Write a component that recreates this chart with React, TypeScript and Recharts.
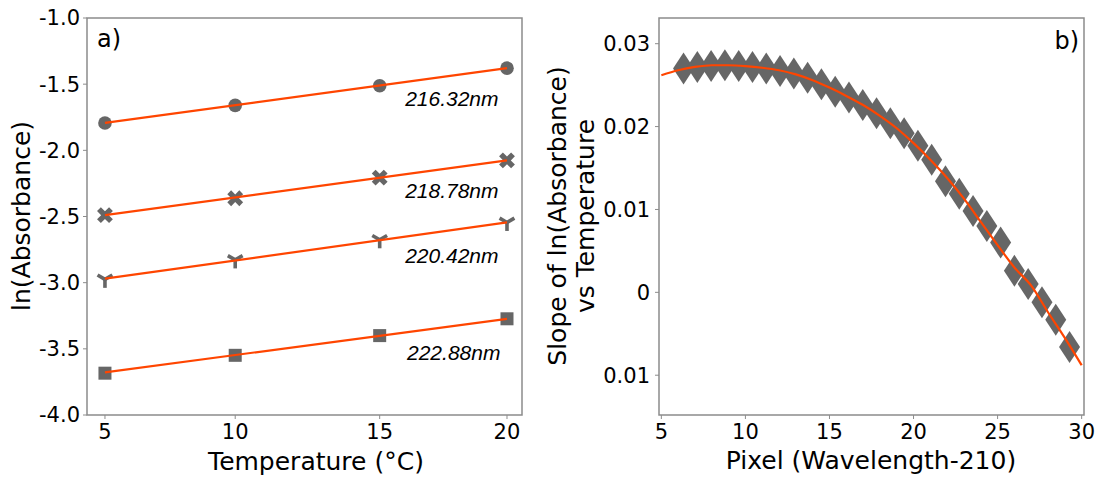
import React from 'react';
import { ComposedChart, Scatter, XAxis, YAxis, ReferenceArea, ReferenceDot } from 'recharts';

// panel a) ln(absorbance) at four temperatures, one row per wavelength
const temperatures = [5, 9.86, 15.25, 20];
const lnAbs21632 = [-1.793, -1.66, -1.512, -1.379];
const lnAbs21878 = [-2.49, -2.362, -2.206, -2.076];
const lnAbs22042 = [-2.975, -2.828, -2.676, -2.545];
const lnAbs22888 = [-3.684, -3.549, -3.4, -3.273];

// linear fit end points for each wavelength
const fitTemps = [5, 20];
const fit21632 = [-1.793, -1.379];
const fit21878 = [-2.49, -2.076];
const fit22042 = [-2.97, -2.545];
const fit22888 = [-3.678, -3.273];

const wavelengthNames = ['216.32nm', '218.78nm', '220.42nm', '222.88nm'];
const lnAbsTicks = [-4, -3.5, -3, -2.5, -2, -1.5, -1];

// panel b) fitted slope against pixel offset
const pixels = [
  6.32, 7.14, 7.96, 8.78, 9.6, 10.42, 11.24, 12.06, 12.88, 13.7, 14.52, 15.34, 16.16, 16.98, 17.8,
  18.62, 19.44, 20.26, 21.08, 21.9, 22.72, 23.54, 24.36, 25.18, 26.0, 26.82, 27.64, 28.46, 29.28,
];
const slopes = [
  0.027, 0.0272, 0.0273, 0.0274, 0.0273, 0.0272, 0.027, 0.0267, 0.0264, 0.0259, 0.0251, 0.0242,
  0.0235, 0.0226, 0.0216, 0.0204, 0.0192, 0.0177, 0.016, 0.0134, 0.0119, 0.0098, 0.008, 0.006,
  0.0026, 0.001, -0.0012, -0.0033, -0.0066,
];
const curvePixels = [5, 6, 7, 8, 9, 10, 11, 12, 13, 14, 15, 16, 17, 18, 19, 20, 21, 22, 23, 24, 25, 26, 27, 28, 29, 30];
const curveSlopes = [
  0.0262, 0.0268, 0.0272, 0.0274, 0.0274, 0.0273, 0.0271, 0.0268, 0.0263, 0.0256, 0.0247, 0.0237,
  0.0226, 0.0213, 0.0198, 0.018, 0.016, 0.0138, 0.0113, 0.0085, 0.0057, 0.003, 0.0008, -0.0024,
  -0.0055, -0.0088,
];
const pixelTicks = [5, 10, 15, 20, 25, 30];
const slopeTicks = [-0.01, 0, 0.01, 0.02, 0.03];

const zip = (xs: number[], ys: number[]) => xs.map((x, i) => ({ x, y: ys[i] }));

const GREY = '#666666';
const FIT = '#ff4500';
const SPINE = '#8c8c8c';
const AXIS_FONT = 'DejaVu Sans, sans-serif';

const tickStyle = { fill: '#000', fontSize: 21, fontFamily: AXIS_FONT };

const Circle = (p: any) => <circle cx={p.cx} cy={p.cy} r={6.8} fill={GREY} />;
const Square = (p: any) => <rect x={p.cx - 6.5} y={p.cy - 6.5} width={13} height={13} fill={GREY} />;
const Cross = (p: any) => {
  const s = 8.5;
  const t = 2.7;
  const d = `M${-t},${-s}H${t}V${-t}H${s}V${t}H${t}V${s}H${-t}V${t}H${-s}V${-t}H${-t}Z`;
  return <path d={d} fill={GREY} transform={`translate(${p.cx},${p.cy}) rotate(45)`} />;
};
const TriDown = (p: any) => (
  <g transform={`translate(${p.cx},${p.cy})`} stroke={GREY} strokeWidth={3.6}>
    <line x1={0} y1={0} x2={0} y2={8.5} />
    <line x1={0} y1={0} x2={-7.4} y2={-4.3} />
    <line x1={0} y1={0} x2={7.4} y2={-4.3} />
  </g>
);
const ThinDiamond = (p: any) => (
  <path
    d={`M${p.cx},${p.cy - 16}L${p.cx + 10.5},${p.cy}L${p.cx},${p.cy + 16}L${p.cx - 10.5},${p.cy}Z`}
    fill={GREY}
  />
);
const NoDot = () => <g />;

const noteText = (name: string) => (p: any) => (
  <text
    x={p.cx}
    y={p.cy}
    fontSize={21}
    fontStyle="italic"
    fontFamily="Liberation Sans, Arial, sans-serif"
    fill="#000"
  >
    {name}
  </text>
);

function TemperaturePanel() {
  const series = [
    { values: lnAbs21632, fit: fit21632, shape: Circle },
    { values: lnAbs21878, fit: fit21878, shape: Cross },
    { values: lnAbs22042, fit: fit22042, shape: TriDown },
    { values: lnAbs22888, fit: fit22888, shape: Square },
  ];
  // where each wavelength name sits, in data units
  const notes = [
    { t: 16.2, v: -1.665 },
    { t: 16.2, v: -2.36 },
    { t: 16.2, v: -2.851 },
    { t: 16.27, v: -3.584 },
  ];
  const xDomain: [number, number] = [4.33, 20.56];
  const yDomain: [number, number] = [-4, -1];
  return (
    <ComposedChart width={540} height={477} margin={{ top: 18, right: 18, bottom: 0, left: 0 }}>
      <XAxis
        dataKey="x"
        type="number"
        domain={xDomain}
        ticks={temperatures}
        tickFormatter={(v: number) => String(Math.round(v))}
        allowDataOverflow
        height={62}
        axisLine={false}
        tickLine={{ stroke: SPINE }}
        tickSize={4}
        tickMargin={5}
        tick={tickStyle}
      />
      <YAxis
        dataKey="y"
        type="number"
        domain={yDomain}
        ticks={lnAbsTicks}
        tickFormatter={(v: number) => v.toFixed(1)}
        allowDataOverflow
        width={87}
        axisLine={false}
        tickLine={{ stroke: SPINE }}
        tickSize={4}
        tickMargin={3}
        tick={tickStyle}
      />
      <ReferenceArea
        x1={xDomain[0]}
        x2={xDomain[1]}
        y1={yDomain[0]}
        y2={yDomain[1]}
        fill="none"
        stroke={SPINE}
        strokeWidth={1.5}
      />
      {series.map((s, i) => (
        <Scatter
          key={`pts${i}`}
          data={zip(temperatures, s.values)}
          shape={s.shape}
          isAnimationActive={false}
        />
      ))}
      {series.map((s, i) => (
        <Scatter
          key={`fit${i}`}
          data={zip(fitTemps, s.fit)}
          line={{ stroke: FIT, strokeWidth: 2.2 }}
          shape={NoDot}
          isAnimationActive={false}
        />
      ))}
      {notes.map((n, i) => (
        <ReferenceDot
          key={`note${i}`}
          x={n.t}
          y={n.v}
          r={0}
          ifOverflow="visible"
          shape={noteText(wavelengthNames[i])}
        />
      ))}
    </ComposedChart>
  );
}

function SlopePanel() {
  const xDomain: [number, number] = [4.86, 30.14];
  const yDomain: [number, number] = [-0.0148, 0.0331];
  return (
    <ComposedChart width={574} height={477} margin={{ top: 18, right: 30, bottom: 0, left: 0 }}>
      <XAxis
        dataKey="x"
        type="number"
        domain={xDomain}
        ticks={pixelTicks}
        allowDataOverflow
        height={62}
        axisLine={false}
        tickLine={{ stroke: SPINE }}
        tickSize={4}
        tickMargin={5}
        tick={tickStyle}
      />
      <YAxis
        dataKey="y"
        type="number"
        domain={yDomain}
        ticks={slopeTicks}
        tickFormatter={(v: number) => (Math.abs(v) < 1e-9 ? '0' : Math.abs(v).toFixed(2))}
        allowDataOverflow
        width={119}
        axisLine={false}
        tickLine={{ stroke: SPINE }}
        tickSize={4}
        tickMargin={5}
        tick={tickStyle}
      />
      <ReferenceArea
        x1={xDomain[0]}
        x2={xDomain[1]}
        y1={yDomain[0]}
        y2={yDomain[1]}
        fill="none"
        stroke={SPINE}
        strokeWidth={1.5}
      />
      <Scatter data={zip(pixels, slopes)} shape={ThinDiamond} isAnimationActive={false} />
      <Scatter
        data={zip(curvePixels, curveSlopes)}
        line={{ stroke: FIT, strokeWidth: 2.2 }}
        lineJointType="monotoneX"
        shape={NoDot}
        isAnimationActive={false}
      />
    </ComposedChart>
  );
}

export default function App() {
  const title = { fontSize: 25, fontFamily: AXIS_FONT, fill: '#000' };
  return (
    <div style={{ position: 'absolute', left: 0, top: 0, width: 1114, height: 477, background: '#fff' }}>
      <div style={{ position: 'absolute', left: 0, top: 0 }}>
        <TemperaturePanel />
      </div>
      <div style={{ position: 'absolute', left: 540, top: 0 }}>
        <SlopePanel />
      </div>
      <svg
        width={1114}
        height={477}
        style={{ position: 'absolute', left: 0, top: 0, pointerEvents: 'none' }}
      >
        <text x={97} y={47} fontSize={24} fontFamily={AXIS_FONT}>a)</text>
        <text x={1079} y={49} fontSize={24} fontFamily={AXIS_FONT} textAnchor="end">b)</text>
        <text
          {...title}
          x={21}
          y={216}
          textAnchor="middle"
          dominantBaseline="central"
          transform="rotate(-90 21 216)"
        >
          ln(Absorbance)
        </text>
        <text {...title} x={316} y={470} textAnchor="middle">
          Temperature (°C)
        </text>
        <text
          {...title}
          x={557}
          y={216}
          textAnchor="middle"
          dominantBaseline="central"
          transform="rotate(-90 557 216)"
        >
          Slope of ln(Absorbance)
        </text>
        <text
          {...title}
          x={585}
          y={216}
          textAnchor="middle"
          dominantBaseline="central"
          transform="rotate(-90 585 216)"
        >
          vs Temperature
        </text>
        <text {...title} x={871} y={469} textAnchor="middle">
          Pixel (Wavelength-210)
        </text>
      </svg>
    </div>
  );
}
